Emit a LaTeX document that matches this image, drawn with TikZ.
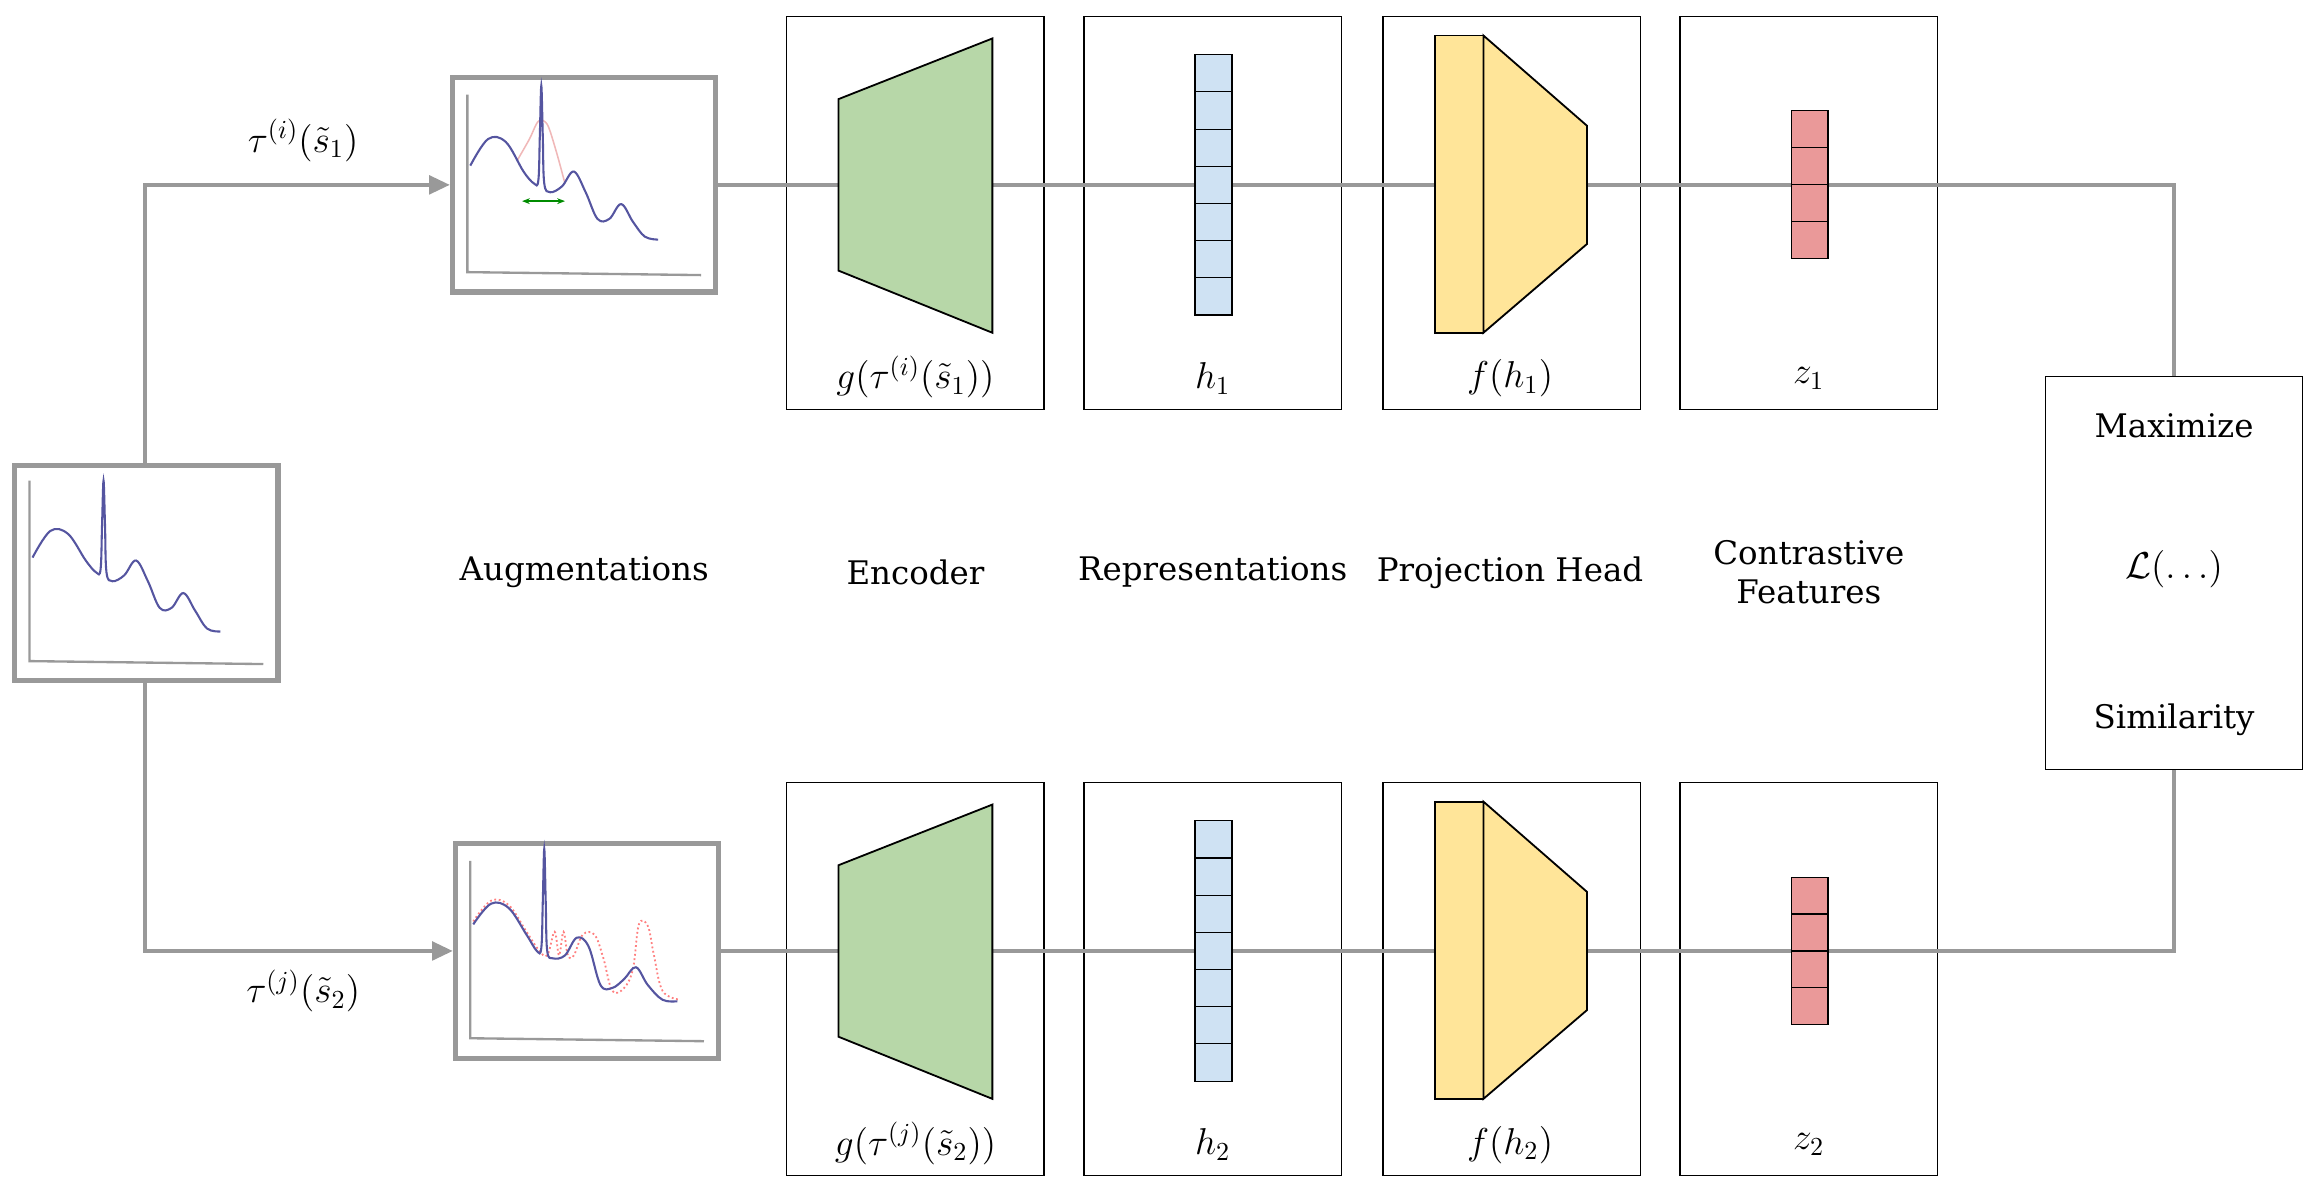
\documentclass[tikz,border=0pt]{standalone}
\usepackage{fontspec}
\setmainfont{DejaVu Serif}
\usetikzlibrary{arrows.meta}
\definecolor{ln}{HTML}{999999}
\definecolor{gr}{HTML}{B7D7A8}
\definecolor{bl}{HTML}{CFE2F3}
\definecolor{ye}{HTML}{FFE599}
\definecolor{rd}{HTML}{EA9999}
\definecolor{cv}{HTML}{5555A0}
\begin{document}
\begin{tikzpicture}[x=0.02cm,y=-0.02cm,
  conn/.style={draw=ln,line width=1.7pt},
  plotbox/.style={draw=ln,line width=2pt,minimum width=3.56cm,minimum height=2.9cm,inner sep=0},
  panel/.style={draw=black,line width=0.5pt,minimum width=3.48cm,minimum height=5.32cm,inner sep=0},
  lab/.style={font=\fontsize{12.5}{15}\selectfont,align=center},
  mth/.style={font=\Large},
  cell/.style={draw=black,line width=0.4pt}]
\useasboundingbox (0,0) rectangle (1568,805);
\newcommand\mycurve{plot[smooth,tension=0.6] coordinates {(12,62) (24,44) (36,46) (48,64) (55,72) (58,70) (59,40) (60,10) (61,40) (62,72) (66,78) (74,74) (82,64) (90,78) (98,96) (106,96) (114,86) (122,98) (130,110) (139,112)}}
\newcommand\axes[1]{\draw[ln,line width=0.9pt] (10,#1) -- (10,132) -- (168,134);}
% nodes
\node[plotbox] (in) at (99,387.5) {};
\node[plotbox] (a1) at (395,125) {};
\node[plotbox] (a2) at (397,643) {};
\foreach \n/\x in {e/619,r/820,p/1022,c/1223}{
  \node[panel] (\n1) at (\x,144) {};
  \node[panel] (\n2) at (\x,662) {};
}
\node[panel] (m) at (1470,387.5) {};
% connectors
\coordinate (s1) at (98,125);
\coordinate (s2) at (98,643);
\coordinate (t1) at (1470,125);
\coordinate (t2) at (1470,643);
\draw[conn,-{Triangle[length=8pt,width=7pt]}] (in.north -| s1) -- (s1) -- (a1.west);
\draw[conn,-{Triangle[length=8pt,width=7pt]}] (in.south -| s2) -- (s2) -- (a2.west);
\draw[conn] (a1.east) -- (t1) -- (m.north -| t1);
\draw[conn] (a2.east) -- (t2) -- (m.south -| t2);
% plots
\begin{scope}[shift={(10,315)}]
\axes{10}
\draw[cv,line width=0.8pt] \mycurve;
\end{scope}
\begin{scope}[shift={(306,52)}]
\axes{12}
\draw[rd!70,line width=0.6pt] plot[smooth] coordinates {(44,56) (52,42) (58,30) (64,32) (70,50) (76,72)};
\draw[cv,line width=0.8pt] plot[smooth,tension=0.6] coordinates {(12,60) (24,42) (36,44) (48,64) (55,72) (58,70) (59,40) (60,6) (61,40) (62,72) (66,78) (74,74) (82,64) (90,78) (98,96) (106,96) (114,86) (122,98) (130,108) (139,110)};
\draw[{Stealth[length=3pt]}-{Stealth[length=3pt]},green!55!black,line width=0.5pt] (47,84) -- (76,84);
\end{scope}
\begin{scope}[shift={(308,570)}]
\axes{12}
\draw[red!50,densely dotted,line width=0.7pt] plot[smooth,tension=0.6] coordinates {(12,53) (24,39) (36,42) (48,60) (56,72) (62,76) (67,60) (70,76) (73,60) (76,76) (80,76) (86,62) (94,62) (100,78) (106,100) (114,98) (120,85) (124,55) (130,56) (134,75) (140,100) (152,106)};
\draw[cv,line width=0.8pt] plot[smooth,tension=0.6] coordinates {(12,55) (24,41) (36,44) (48,62) (55,73) (58,71) (59,40) (60,4) (61,40) (62,73) (66,78) (74,76) (82,64) (90,70) (98,96) (106,98) (114,92) (122,84) (130,96) (140,106) (150,107)};
\end{scope}
% shapes
\foreach \dy/\k in {0/1,518/2}{
  \begin{scope}[yshift=-\dy*0.02cm]
  \draw[fill=gr,line width=0.7pt] (567,67) -- (671,26) -- (671,225) -- (567,183) -- cycle;
  \foreach \i in {0,...,6} \draw[cell,fill=bl] (808,37+\i*25.14) rectangle (833,37+\i*25.14+25.14);
  \draw[fill=ye,line width=0.7pt] (970,24) rectangle (1003,225);
  \draw[fill=ye,line width=0.7pt] (1003,24) -- (1073,85) -- (1073,165) -- (1003,225) -- cycle;
  \foreach \i in {0,...,3} \draw[cell,fill=rd] (1211,75+\i*25) rectangle (1236,100+\i*25);
  \end{scope}
}
% labels
\node[mth] (lt1) at (205,95) {$\tau^{(i)}(\tilde{s}_1)$};
\node[mth] (lt2) at (205,670) {$\tau^{(j)}(\tilde{s}_2)$};
\node[mth] at (619,255) {$g(\tau^{(i)}(\tilde{s}_1))$};
\node[mth] at (619,773) {$g(\tau^{(j)}(\tilde{s}_2))$};
\node[mth] at (820,256) {$h_1$};
\node[mth] at (820,774) {$h_2$};
\node[mth] at (1021,256) {$f(h_1)$};
\node[mth] at (1021,774) {$f(h_2)$};
\node[mth] at (1223,256) {$z_1$};
\node[mth] at (1223,774) {$z_2$};
\node[lab] at (395,387) {Augmentations};
\node[lab] at (619,387) {Encoder};
\node[lab] at (820,387) {Representations};
\node[lab] at (1021,387) {Projection Head};
\node[lab] at (1223,387) {Contrastive\\Features};
\node[lab] at (1470,288) {Maximize};
\node[mth] at (1470,385) {$\mathcal{L}(\ldots)$};
\node[lab] at (1470,487) {Similarity};
\end{tikzpicture}
\end{document}
